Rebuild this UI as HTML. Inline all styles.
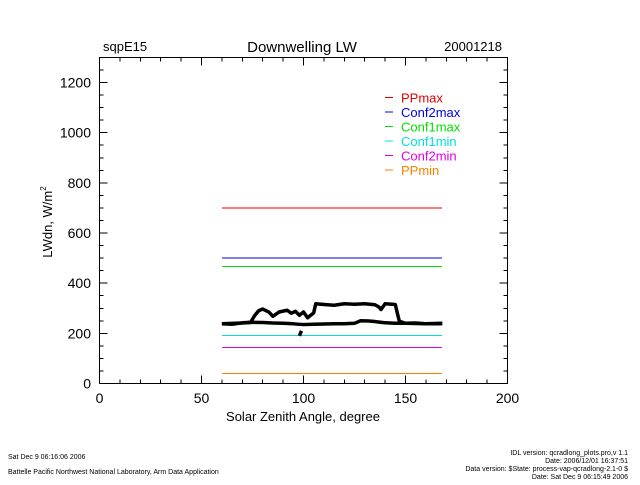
<!DOCTYPE html>
<html><head><meta charset="utf-8"><style>
body{margin:0;background:#fff;width:640px;height:480px;overflow:hidden}
svg{font-family:"Liberation Sans",sans-serif}
line,rect{shape-rendering:crispEdges}
</style></head><body>
<svg id="c" width="640" height="480">
<text x="103" y="51" font-size="13">sqpE15</text>
<text x="302" y="52" font-size="15" text-anchor="middle">Downwelling LW</text>
<text x="502" y="51" font-size="13" text-anchor="end">20001218</text>
<text x="303" y="421" font-size="13" text-anchor="middle">Solar Zenith Angle, degree</text>
<text transform="translate(52,222) rotate(-90)" font-size="13" text-anchor="middle">LWdn, W/m<tspan font-size="8" dy="-6">2</tspan></text>
<text x="8" y="459" font-size="7">Sat Dec  9 06:16:06 2006</text>
<text x="8" y="474" font-size="7">Battelle Pacific Northwest National Laboratory, Arm Data Application</text>
<text x="628" y="455" font-size="7" text-anchor="end">IDL version: qcradlong_plots.pro,v 1.1</text>
<text x="628" y="463" font-size="7" text-anchor="end">Date: 2006/12/01 16:37:51</text>
<text x="628" y="471" font-size="7" text-anchor="end">Data version: $State: process-vap-qcradlong-2.1-0 $</text>
<text x="628" y="479" font-size="7" text-anchor="end">Date: Sat Dec  9 06:15:49 2006</text>
<g id="g"></g>
</svg>
<script>
const xTicks=[0,50,100,150,200];
const yTicks=[0,200,400,600,800,1000,1200];
const limNames=["PPmax","Conf2max","Conf1max","Conf1min","Conf2min","PPmin"];
const limValues=[700,500,466,191,143,40];
const limColors=["#e00000","#0000e0","#00e000","#00e0e0","#e000e0","#ff8000"];
const limStart=60, limEnd=168;
const szaA=[60,65,70,75,80,85,90,95,98,100,105,110,115,120,125,128,132,135,140,145,150,155,160,168];
const lwA=[238,236,242,244,243,241,240,238,236,235,236,237,238,238,240,250,249,247,242,240,240,241,238,238];
const szaB=[60,70,74,76,78,80,83,85,88,92,94,96,98,100,102,104,105,106,110,115,120,125,130,135,137,138,140,145,146,147,150,160,168];
const lwB=[238,241,243,270,290,297,285,268,285,292,280,288,272,285,262,275,282,318,315,312,318,316,318,314,305,295,318,315,280,248,240,238,240];
const szaC=[98,98.5,99];
const lwC=[190,200,210];
const X=v=>99.5+v*2.04, Y=v=>383.5-v*0.2508;
const g=document.getElementById('g');
const NS="http://www.w3.org/2000/svg";
function el(t,a){const e=document.createElementNS(NS,t);for(const k in a)e.setAttribute(k,a[k]);g.appendChild(e);return e;}
let f=el('rect',{x:X(0),y:Y(1300),width:X(200)-X(0),height:Y(0)-Y(1300),fill:'none',stroke:'#000','stroke-width':1});


for(let v=0;v<=200;v+=10){const M=v%50==0,L=M?8:4;
 el('line',{x1:X(v),x2:X(v),y1:Y(0),y2:Y(0)-L,stroke:'#000'});
 el('line',{x1:X(v),x2:X(v),y1:Y(1300),y2:Y(1300)+L,stroke:'#000'});}
for(let v=0;v<=1300;v+=50){const M=v%200==0,L=M?8:4;
 el('line',{x1:X(0),x2:X(0)+L,y1:Y(v),y2:Y(v),stroke:'#000'});
 el('line',{x1:X(200),x2:X(200)-L,y1:Y(v),y2:Y(v),stroke:'#000'});}
xTicks.forEach(v=>{const t=el('text',{x:X(v),y:403,'font-size':14,'text-anchor':'middle'});t.textContent=v;
 
 });
yTicks.forEach(v=>{const t=el('text',{x:91,y:Y(v)+5,'font-size':14,'text-anchor':'end'});t.textContent=v;
 
 });
limValues.forEach((v,i)=>{const l=el('line',{x1:X(limStart),x2:X(limEnd),y1:Y(v),y2:Y(v),stroke:limColors[i]});
 
 
 const ly=97.5+i*14.5;
 const lm=el('line',{x1:385,x2:393,y1:ly,y2:ly,stroke:limColors[i]});
 
 
 const t=el('text',{x:401,y:ly+5,'font-size':13,fill:limColors[i]});t.textContent=limNames[i];
 
 });
[[szaA,lwA],[szaB,lwB],[szaC,lwC]].forEach((s,i)=>{
 const p=el('polyline',{points:s[0].map((x,j)=>X(x)+','+Y(s[1][j])).join(' '),fill:'none',stroke:'#000','stroke-width':3.5,'stroke-linejoin':'round'});
 
 });
</script>
</body></html>
